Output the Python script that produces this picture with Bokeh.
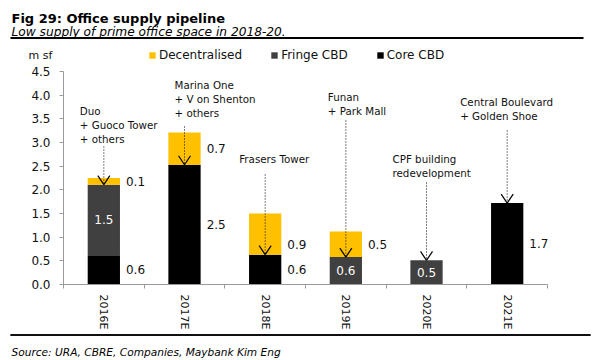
import math
from bokeh.plotting import figure
from bokeh.models import (Range1d, FixedTicker, PrintfTickFormatter, Legend, LegendItem,
                          Label, ColumnDataSource, BoxAnnotation)
from bokeh.core.properties import value
from bokeh.embed import file_html
from bokeh.resources import INLINE

# ---------------- data ----------------
years = ["2016E", "2017E", "2018E", "2019E", "2020E", "2021E"]
core = [0.62, 2.53, 0.63, 0.0, 0.0, 1.72]
fringe = [1.49, 0.0, 0.0, 0.58, 0.51, 0.0]
decentral = [0.14, 0.68, 0.87, 0.54, 0.0, 0.0]
y_ticks = [0.0, 0.5, 1.0, 1.5, 2.0, 2.5, 3.0, 3.5, 4.0, 4.5]
projects = [
    ["Duo", "+ Guoco Tower", "+ others"],
    ["Marina One", "+ V on Shenton", "+ others"],
    ["Frasers Tower"],
    ["Funan", "+ Park Mall"],
    ["CPF building", "redevelopment"],
    ["Central Boulevard", "+ Golden Shoe"],
]
series_names = ["Core CBD", "Fringe CBD", "Decentralised"]
title_text = "Fig 29: Office supply pipeline"
subtitle_text = "Low supply of prime office space in 2018-20."
unit_text = "m sf"
source_text = "Source: URA, CBRE, Companies, Maybank Kim Eng"

# ---------------- layout helpers (pixel positions in the picture) ----------------
W, H = 600, 360
X0_PX, Y0_PX = 63.0, 284.0        # picture position of the data origin
XPX, YPX = 80.67, 47.33           # pixels per data unit


def ix(px):
    return (px - X0_PX) / XPX


def iy(px):
    return (Y0_PX - px) / YPX


FONT = "DejaVu Sans"
C_DEC, C_FRINGE, C_CORE = "#FFC000", "#404040", "#000000"
AXIS_C = "#9a9a9a"
TXT = "#111111"

xs = [i + 0.5 for i in range(len(years))]

p = figure(width=W, height=H, output_backend="svg", toolbar_location=None,
           x_range=Range1d(ix(0), ix(W)), y_range=Range1d(iy(H), iy(0)),
           min_border_left=0, min_border_right=0, min_border_top=0, min_border_bottom=0)
p.outline_line_color = None
p.xgrid.visible = False
p.ygrid.visible = False
p.background_fill_color = "white"
p.border_fill_color = "white"

# rules under the subtitle and above the source
p.segment(x0=[ix(10)], y0=[iy(37.5)], x1=[ix(583)], y1=[iy(37.5)],
          line_color="black", line_width=2)
p.segment(x0=[ix(10)], y0=[iy(334.5)], x1=[ix(590)], y1=[iy(334.5)],
          line_color="black", line_width=1.6, level="overlay")
p.add_layout(BoxAnnotation(left=ix(10), right=ix(590), top=iy(333.7), bottom=iy(335.3),
                           fill_color="black", fill_alpha=1, line_color=None,
                           level="overlay"))

src = ColumnDataSource(dict(x=xs, core=core, fringe=fringe, dec=decentral))
rs = p.vbar_stack(["core", "fringe", "dec"], x="x", width=0.4, source=src,
                  fill_color=[C_CORE, C_FRINGE, C_DEC], line_color=None)

# axes (drawn at the data origin inside the frame)
yax = p.yaxis[0]
yax.fixed_location = 0
yax.ticker = FixedTicker(ticks=y_ticks, minor_ticks=[])
yax.formatter = PrintfTickFormatter(format="%.1f")
yax.bounds = (0, y_ticks[-1])
yax.major_tick_out = 4
yax.major_tick_in = 0
yax.minor_tick_out = 0
yax.minor_tick_in = 0
yax.axis_line_color = AXIS_C
yax.major_tick_line_color = AXIS_C
yax.major_label_text_font = FONT
yax.major_label_text_font_size = "12px"
yax.major_label_text_color = TXT
yax.major_label_standoff = 9

xax = p.xaxis[0]
xax.fixed_location = 0
xax.ticker = FixedTicker(ticks=xs, minor_ticks=list(range(len(years) + 1)))
xax.major_label_overrides = {x: y for x, y in zip(xs, years)}
xax.bounds = (0, len(years))
xax.major_tick_out = 0
xax.major_tick_in = 0
xax.minor_tick_out = 4
xax.minor_tick_in = 0
xax.axis_line_color = AXIS_C
xax.minor_tick_line_color = AXIS_C
xax.major_label_orientation = -math.pi / 2
xax.major_label_text_font = FONT
xax.major_label_text_font_size = "11px"
xax.major_label_text_color = TXT
xax.major_label_standoff = 6

# value labels
nudge = {(2, 2): 10}
lx, ly, lt, lc, la, ldy = [], [], [], [], [], []
for i in range(len(years)):
    base = 0.0
    for k, vals in enumerate([core, fringe, decentral]):
        v = vals[i]
        if v > 0:
            inside = (k == 1)
            lx.append(xs[i] if inside else xs[i] + 0.2 + 6 / XPX)
            ly.append(base + v / 2)
            lt.append(f"{v:.1f}")
            lc.append("white" if inside else TXT)
            la.append("center" if inside else "left")
            ldy.append(nudge.get((i, k), 0))
        base += v
lsrc = ColumnDataSource(dict(x=lx, y=ly, t=lt, c=lc, a=la, dy=ldy))
p.text(x="x", y="y", text="t", text_color="c", text_align="a", y_offset="dy",
       text_baseline="middle", text_font=value(FONT), text_font_size="12px", source=lsrc)

# project annotations with dotted arrows (dotted body + open V head)
ann_dx = [-24, -10, -26, -18, -34, -47]          # px from bar centre to text start
ann_first = [110, 84, 158, 96, 158, 101]         # picture y of first text line
ann_start = [146, 126, 174, 120, 182, 130]       # picture y where arrow starts
LINE_GAP = 14
HEAD_W, HEAD_H = 6, 9                            # px half-width and height of the head
tx, ty, tt = [], [], []
bx0, by0, bx1, by1 = [], [], [], []
hx0, hy0, hx1, hy1 = [], [], [], []
for i, lines in enumerate(projects):
    for j, line in enumerate(lines):
        tx.append(xs[i] + ann_dx[i] / XPX)
        ty.append(iy(ann_first[i] + j * LINE_GAP))
        tt.append(line)
    tip = core[i] + fringe[i]
    bx0.append(xs[i]); by0.append(iy(ann_start[i])); bx1.append(xs[i]); by1.append(tip)
    for s in (-1, 1):
        hx0.append(xs[i] + s * HEAD_W / XPX); hy0.append(tip + HEAD_H / YPX)
        hx1.append(xs[i]); hy1.append(tip)
p.segment(x0=bx0, y0=by0, x1=bx1, y1=by1, line_color="black", line_width=1,
          line_dash="1 2")
p.segment(x0=hx0, y0=hy0, x1=hx1, y1=hy1, line_color="black", line_width=1.2)
p.text(x=tx, y=ty, text=tt, text_baseline="middle", text_align="left",
       text_font=value(FONT), text_font_size="10.3px", text_color=TXT)

# legend
legend = Legend(items=[LegendItem(label=series_names[2], renderers=[rs[2]]),
                       LegendItem(label=series_names[1], renderers=[rs[1]]),
                       LegendItem(label=series_names[0], renderers=[rs[0]])],
                orientation="horizontal", location=(148, H - 62),
                border_line_color=None, background_fill_alpha=0, padding=0, margin=0,
                spacing=28, glyph_width=8, glyph_height=8, label_standoff=3,
                label_height=14, label_text_font=FONT, label_text_font_size="12px",
                label_text_color=TXT)
p.add_layout(legend)

# titles, unit and source
p.add_layout(Label(x=ix(11), y=iy(17.5), text=title_text, text_font=FONT,
                   text_font_size="13px", text_font_style="bold", text_baseline="alphabetic",
                   text_color="#000000"))
p.add_layout(Label(x=ix(11), y=iy(31), text=subtitle_text, text_font=FONT,
                   text_font_size="12.2px", text_font_style="italic", text_baseline="alphabetic",
                   text_color="#000000"))
p.add_layout(Label(x=ix(28), y=iy(55), text=unit_text, text_font=FONT,
                   text_font_size="11px", text_baseline="alphabetic", text_color=TXT))
p.add_layout(Label(x=ix(11), y=iy(351), text=source_text, text_font=FONT,
                   text_font_size="10.6px", text_font_style="italic", text_baseline="alphabetic",
                   text_color="#000000"))

open("out.html", "w").write(file_html(p, INLINE))
